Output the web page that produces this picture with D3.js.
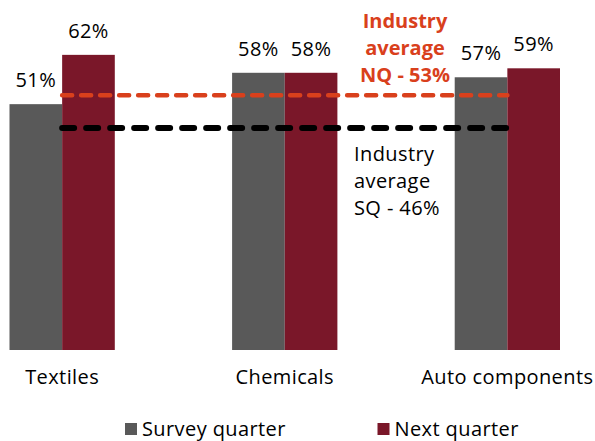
<!DOCTYPE html>
<html>
<head>
<meta charset="utf-8">
<script src="https://cdn.jsdelivr.net/npm/d3@7"></script>
<style>
  body { margin: 0; background: #fff; }
  svg { display: block; font-family: "Open Sans", sans-serif; }
</style>
</head>
<body>
<div id="chart"></div>
<script>
const categories = ['Textiles', 'Chemicals', 'Auto components'];
const seriesNames = ['Survey quarter', 'Next quarter'];
const surveyQuarter = [51, 58, 57];
const nextQuarter = [62, 58, 59];
const averageNQ = 53;
const averageSQ = 46;

const widthContainer = 595;
const heightContainer = 441;
const baseline = 350;
const fontSize = '20px';
const spacing = '0.4px';
const colors = {'Survey quarter': '#595959', 'Next quarter': '#7a1729'};
const redLine = '#d9401c';

const data = categories.map((c, i) => ({
  category: c,
  values: [
    {series: seriesNames[0], value: surveyQuarter[i]},
    {series: seriesNames[1], value: nextQuarter[i]}
  ]
}));

const svg = d3.select('#chart')
  .append('svg')
  .attr('width', widthContainer)
  .attr('height', heightContainer);

const x0 = d3.scaleBand()
  .domain(categories)
  .range([9.5, 560])
  .paddingInner(0.527)
  .paddingOuter(0);

const x1 = d3.scaleBand()
  .domain(seriesNames)
  .range([0, x0.bandwidth()]);

// the bars run a bit below zero in the original, so the domain starts under 0
const yScale = d3.scaleLinear()
  .domain([-3.85, 70])
  .range([baseline, baseline - 73.85 * 4.482]);

const groups = svg.selectAll('.group')
  .data(data)
  .enter()
  .append('g')
  .attr('class', 'group')
  .attr('transform', d => `translate(${x0(d.category)}, 0)`);

groups.selectAll('rect')
  .data(d => d.values)
  .enter()
  .append('rect')
  .attr('x', d => x1(d.series))
  .attr('y', d => yScale(d.value))
  .attr('width', x1.bandwidth())
  .attr('height', d => baseline - yScale(d.value))
  .attr('fill', d => colors[d.series]);

// value labels
groups.selectAll('.value-text')
  .data(d => d.values)
  .enter()
  .append('text')
  .attr('class', 'value-text')
  .attr('x', d => x1(d.series) + x1.bandwidth() / 2)
  .attr('y', d => yScale(d.value) - 17)
  .attr('text-anchor', 'middle')
  .style('font-size', fontSize)
  .style('letter-spacing', spacing)
  .style('fill', '#000')
  .text(d => d.value + '%');

// category labels
svg.append('g')
  .selectAll('text')
  .data(categories)
  .enter()
  .append('text')
  .attr('x', d => x0(d) + x0.bandwidth() / 2)
  .attr('y', baseline + 34)
  .attr('text-anchor', 'middle')
  .style('font-size', fontSize)
  .style('letter-spacing', spacing)
  .style('fill', '#000')
  .text(d => d);

// industry average lines
const lineStart = x0(categories[0]) + x1.bandwidth();
const lineEnd = x0(categories[categories.length - 1]) + x1.bandwidth();

svg.append('line')
  .attr('x1', lineStart)
  .attr('x2', lineEnd)
  .attr('y1', yScale(averageNQ))
  .attr('y2', yScale(averageNQ))
  .attr('stroke', redLine)
  .attr('stroke-width', 4.5)
  .attr('stroke-linecap', 'round')
  .attr('stroke-dasharray', '10 9');

svg.append('line')
  .attr('x1', lineStart)
  .attr('x2', lineEnd)
  .attr('y1', yScale(averageSQ) + 1.5)
  .attr('y2', yScale(averageSQ) + 1.5)
  .attr('stroke', '#000')
  .attr('stroke-width', 6)
  .attr('stroke-linecap', 'round')
  .attr('stroke-dasharray', '12 12');

// annotations
const nqLines = ['Industry', 'average', `NQ - ${averageNQ}%`];
svg.append('text')
  .attr('text-anchor', 'middle')
  .style('font-size', fontSize)
  .style('font-weight', 'bold')
  .style('fill', redLine)
  .selectAll('tspan')
  .data(nqLines)
  .enter()
  .append('tspan')
  .attr('x', 405)
  .attr('y', (d, i) => yScale(averageNQ) - 13 - (nqLines.length - 1 - i) * 27)
  .text(d => d);

const sqLines = ['Industry', 'average', `SQ - ${averageSQ}%`];
svg.append('text')
  .style('font-size', fontSize)
  .style('letter-spacing', spacing)
  .style('fill', '#000')
  .selectAll('tspan')
  .data(sqLines)
  .enter()
  .append('tspan')
  .attr('x', 354)
  .attr('y', (d, i) => yScale(averageSQ) + 34 + i * 27)
  .text(d => d);

// legend
const legendX = [125, 377.5];
const legend = svg.append('g')
  .selectAll('g')
  .data(seriesNames)
  .enter()
  .append('g')
  .attr('transform', (d, i) => `translate(${legendX[i]}, 423)`);

legend.append('rect')
  .attr('width', 12)
  .attr('height', 12)
  .attr('fill', d => colors[d]);

legend.append('text')
  .attr('x', 17)
  .attr('y', 13)
  .style('font-size', fontSize)
  .style('letter-spacing', spacing)
  .style('fill', '#000')
  .text(d => d);
</script>
</body>
</html>
